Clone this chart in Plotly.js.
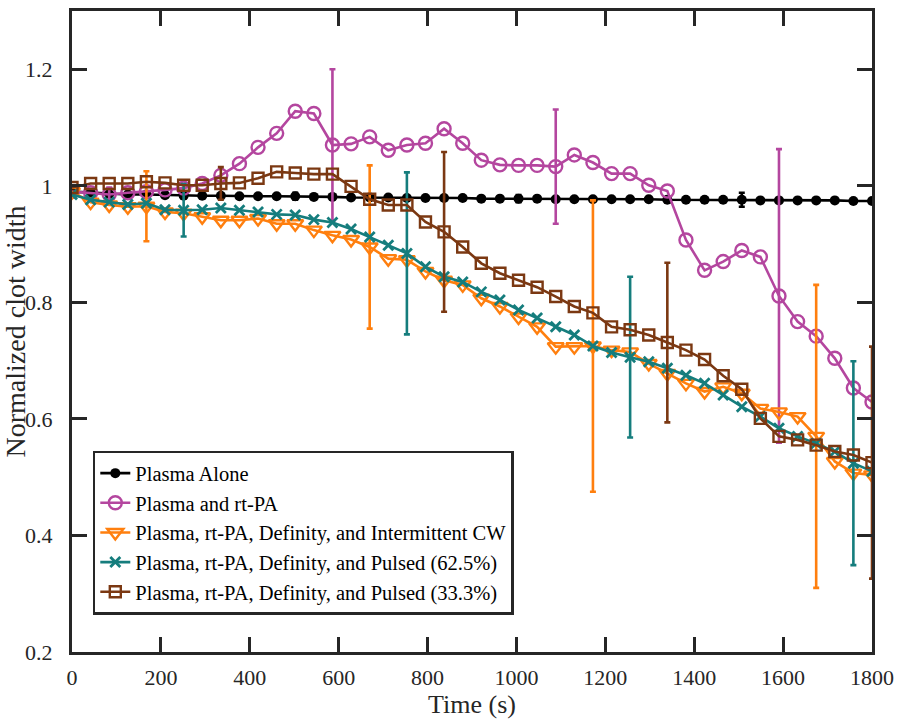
<!DOCTYPE html>
<html>
<head>
<meta charset="utf-8">
<script src="https://cdn.plot.ly/plotly-3.0.1.min.js"></script>
<style>html,body{margin:0;padding:0;background:#fff;}#chart{width:898px;height:721px;}</style>
</head>
<body>
<div id="chart"></div>
<script>
// Time points (s)
const timeS = [0, 41.9, 83.7, 125.6, 167.4, 209.3, 251.2, 293.0, 334.9, 376.7, 418.6, 460.5, 502.3, 544.2, 586.0, 627.9, 669.8, 711.6, 753.5, 795.3, 837.2, 879.1, 920.9, 962.8, 1004.7, 1046.5, 1088.4, 1130.2, 1172.1, 1214.0, 1255.8, 1297.7, 1339.5, 1381.4, 1423.3, 1465.1, 1507.0, 1548.8, 1590.7, 1632.6, 1674.4, 1716.3, 1758.1, 1800];

const seriesNames = [
  "Plasma Alone",
  "Plasma and rt-PA",
  "Plasma, rt-PA, Definity, and Intermittent CW",
  "Plasma, rt-PA, Definity, and Pulsed (62.5%)",
  "Plasma, rt-PA, Definity, and Pulsed (33.3%)"
];

const plasmaAlone = [0.990, 0.988, 0.986, 0.985, 0.985, 0.984, 0.983, 0.983, 0.983, 0.982, 0.982, 0.982, 0.982, 0.981, 0.981, 0.980, 0.980, 0.980, 0.979, 0.979, 0.979, 0.979, 0.978, 0.978, 0.978, 0.978, 0.977, 0.977, 0.977, 0.977, 0.977, 0.977, 0.976, 0.976, 0.976, 0.976, 0.976, 0.975, 0.975, 0.975, 0.975, 0.975, 0.974, 0.974];

const plasmaRtPA = [0.990, 0.988, 0.985, 0.988, 0.990, 0.993, 0.996, 1.004, 1.018, 1.038, 1.066, 1.090, 1.128, 1.124, 1.070, 1.072, 1.084, 1.061, 1.070, 1.073, 1.098, 1.073, 1.044, 1.036, 1.035, 1.035, 1.033, 1.053, 1.040, 1.021, 1.021, 1.001, 0.991, 0.907, 0.855, 0.870, 0.889, 0.878, 0.811, 0.767, 0.742, 0.704, 0.653, 0.629];

const intermittentCW = [0.990, 0.972, 0.967, 0.964, 0.965, 0.955, 0.953, 0.947, 0.941, 0.941, 0.944, 0.935, 0.935, 0.924, 0.915, 0.908, 0.895, 0.875, 0.873, 0.853, 0.838, 0.830, 0.807, 0.793, 0.775, 0.758, 0.724, 0.724, 0.725, 0.718, 0.715, 0.695, 0.678, 0.661, 0.647, 0.655, 0.644, 0.618, 0.612, 0.604, 0.570, 0.527, 0.507, 0.504];

const pulsed625 = [0.985, 0.976, 0.972, 0.968, 0.970, 0.959, 0.958, 0.959, 0.962, 0.958, 0.955, 0.951, 0.950, 0.942, 0.937, 0.926, 0.912, 0.898, 0.884, 0.861, 0.844, 0.835, 0.818, 0.804, 0.787, 0.773, 0.758, 0.744, 0.725, 0.714, 0.706, 0.698, 0.687, 0.675, 0.661, 0.641, 0.621, 0.604, 0.584, 0.570, 0.558, 0.544, 0.524, 0.510];

const pulsed333 = [0.997, 1.004, 1.004, 1.004, 1.007, 1.005, 1.001, 1.001, 1.004, 1.005, 1.013, 1.024, 1.022, 1.020, 1.020, 0.999, 0.977, 0.967, 0.967, 0.938, 0.921, 0.895, 0.867, 0.850, 0.838, 0.826, 0.810, 0.793, 0.782, 0.758, 0.753, 0.744, 0.731, 0.718, 0.702, 0.674, 0.651, 0.601, 0.570, 0.564, 0.555, 0.544, 0.538, 0.525];

// Error bars: indices of points carrying an error bar, and their half-lengths
const errIdxAlone = [0, 12, 24, 36];      const errValAlone = [0.008, 0.006, 0.006, 0.012];
const errIdxRtPA = [2, 14, 26, 38];       const errValRtPA = [0.012, 0.130, 0.098, 0.252];
const errIdxCW = [4, 16, 28, 40];         const errValCW = [0.060, 0.140, 0.250, 0.260];
const errIdx625 = [6, 18, 30, 42];        const errVal625 = [0.045, 0.139, 0.138, 0.175];
const errIdx333 = [8, 20, 32, 43];        const errVal333 = [0.028, 0.137, 0.137, 0.199];

const xTicks = [0, 200, 400, 600, 800, 1000, 1200, 1400, 1600, 1800];
const yTicks = [0.2, 0.4, 0.6, 0.8, 1.0, 1.2];
const yTickText = ["0.2", "0.4", "0.6", "0.8", "1", "1.2"];

function errArray(n, idx, val) {
  const a = new Array(n).fill(NaN);
  idx.forEach((k, j) => { a[k] = val[j]; });
  return a;
}

const FONT = "Liberation Serif, Times New Roman, serif";
const colors = ["#000000", "#B4469F", "#FF7F0E", "#157D7D", "#7B3812"];
const ys = [plasmaAlone, plasmaRtPA, intermittentCW, pulsed625, pulsed333];
const errs = [[errIdxAlone, errValAlone], [errIdxRtPA, errValRtPA], [errIdxCW, errValCW], [errIdx625, errVal625], [errIdx333, errVal333]];
const markers = [
  {symbol: "circle", size: 10, color: colors[0], line: {width: 0}},
  {symbol: "circle-open", size: 13, color: colors[1], line: {width: 2.4, color: colors[1]}},
  {symbol: "triangle-down-open", size: 14, color: colors[2], line: {width: 2.4, color: colors[2]}},
  {symbol: "x-thin-open", size: 10, color: colors[3], line: {width: 2.8, color: colors[3]}},
  {symbol: "square-open", size: 11, color: colors[4], line: {width: 2.4, color: colors[4]}}
];

const traces = ys.map((y, k) => ({
  type: "scatter",
  mode: "lines+markers",
  name: seriesNames[k],
  x: timeS,
  y: y,
  line: {color: colors[k], width: 2.6},
  marker: markers[k],
  error_y: {type: "data", array: errArray(y.length, errs[k][0], errs[k][1]), visible: true,
            color: colors[k], thickness: 2.6, width: 3}
}));

const layout = {
  width: 898, height: 721,
  margin: {l: 72, r: 26, t: 11, b: 69},
  paper_bgcolor: "#ffffff", plot_bgcolor: "#ffffff",
  font: {family: FONT, size: 20, color: "#000"},
  showlegend: true,
  xaxis: {
    range: [0, 1800], tickvals: xTicks, ticktext: xTicks.map(String),
    showgrid: false, zeroline: false, showline: true, linecolor: "#262626", linewidth: 3,
    mirror: "ticks", ticks: "inside", ticklen: 15, tickwidth: 3, tickcolor: "#262626",
    tickfont: {family: FONT, size: 22, color: "#262626"}, ticklabelstandoff: 4,
    title: {text: "Time (s)", font: {family: FONT, size: 26, color: "#262626"}, standoff: 0}
  },
  yaxis: {
    range: [0.2, 1.3], tickvals: yTicks, ticktext: yTickText,
    showgrid: false, zeroline: false, showline: true, linecolor: "#262626", linewidth: 3,
    mirror: "ticks", ticks: "inside", ticklen: 15, tickwidth: 3, tickcolor: "#262626",
    tickfont: {family: FONT, size: 22, color: "#262626"}, ticklabelstandoff: 12,
    title: {text: "Normalized clot width", font: {family: FONT, size: 28, color: "#262626"}, standoff: 6}
  },
  legend: {
    x: 0.026, y: 0.058, xanchor: "left", yanchor: "bottom",
    bgcolor: "#ffffff", bordercolor: "#262626", borderwidth: 2.5,
    font: {family: FONT, size: 20.5, color: "#000"},
    tracegroupgap: 0
  }
};

Plotly.newPlot("chart", traces, layout, {displayModeBar: false, staticPlot: true});
</script>
</body>
</html>
